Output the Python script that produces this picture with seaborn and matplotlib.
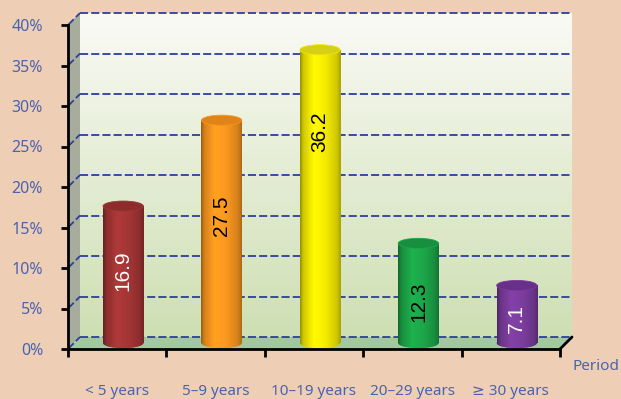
import numpy as np
import pandas as pd
import matplotlib
matplotlib.use("Agg")
import matplotlib.pyplot as plt
import matplotlib.transforms as mtransforms
from matplotlib.colors import to_rgb
from matplotlib.patches import Ellipse, Polygon, Rectangle
from matplotlib.lines import Line2D
from matplotlib.ticker import FuncFormatter
import seaborn as sns

# ---- data -------------------------------------------------------------
periods = ["< 5 years", "5–9 years", "10–19 years", "20–29 years", "≥ 30 years"]
shares = [16.9, 27.5, 36.2, 12.3, 7.1]
y_ticks = [0, 5, 10, 15, 20, 25, 30, 35, 40]
axis_title = "Period"

# ---- styling ----------------------------------------------------------
bar_colors = ["#A33535", "#F7961F", "#F2E900", "#1CA548", "#7B3C9C"]
top_colors = ["#8C2C2C", "#E0841A", "#D6CF18", "#178F3E", "#68308A"]
label_colors = ["white", "black", "black", "black", "white"]
label_frac = [0.53, 0.57, 0.72, 0.41, 0.42]

BG = "#EFCEB6"
TICK_BLUE = "#4A63AE"
GRID_BLUE = "#2D3E9F"
W, H, DPI = 621, 399, 100
DEPTH = 12  # px, depth of the box

sns.set_style("white")
plt.rcParams["font.family"] = ["Noto Sans", "DejaVu Sans"]

fig = plt.figure(figsize=(W / DPI, H / DPI), dpi=DPI, facecolor=BG)
ax = fig.add_axes([68 / W, 50 / H, 492 / W, 324 / H])
ax.patch.set_visible(False)

df = pd.DataFrame({"period": periods, "share": shares})
sns.barplot(data=df, x="period", y="share", hue="period", palette=bar_colors,
            width=0.41, saturation=1, legend=False, linewidth=0, ax=ax,
            zorder=3)
bars = sorted([p for p in ax.patches if isinstance(p, Rectangle)],
              key=lambda p: p.get_x())
ax.set_xlim(-0.5, len(periods) - 0.5)
ax.set_ylim(y_ticks[0], y_ticks[-1])

off_back = ax.transData + mtransforms.ScaledTranslation(DEPTH / DPI, DEPTH / DPI, fig.dpi_scale_trans)
off_mid = ax.transData + mtransforms.ScaledTranslation(DEPTH / 2 / DPI, DEPTH / 2 / DPI, fig.dpi_scale_trans)
pix = mtransforms.IdentityTransform()
x_lo, x_hi = ax.get_xlim()
y_lo, y_hi = ax.get_ylim()

# ---- back wall (vertical gradient) -----------------------------------
top_c = np.array(to_rgb("#FAFAF5"))
bot_c = np.array(to_rgb("#CEDFB3"))
t = np.linspace(0, 1, 256)[:, None]
wall = (top_c * (1 - t) + bot_c * t)[:, None, :]
im = ax.imshow(wall, extent=(x_lo, x_hi, y_lo, y_hi), aspect="auto",
               origin="upper", zorder=0, interpolation="bilinear")
im.set_transform(off_back)
im.set_clip_on(False)

# ---- side wall and floor (pixel coordinates) ---------------------------
def disp(x, y):
    return ax.transData.transform((x, y))

fl = disp(x_lo, y_lo)
fr = disp(x_hi, y_lo)
tl = disp(x_lo, y_hi)
d = np.array([DEPTH, DEPTH])
side = Polygon([fl, tl, tl + d, fl + d], closed=True, transform=pix,
               facecolor="#A6AD9C", edgecolor="none", zorder=0.5,
               clip_on=False)
ax.add_artist(side)
floor = Polygon([fl, fr, fr + d, fl + d], closed=True, transform=pix,
                facecolor="#A3C8A0", edgecolor="none", zorder=0.6,
                clip_on=False)
ax.add_artist(floor)
ax.add_artist(Line2D([fr[0], fr[0] + DEPTH], [fr[1], fr[1] + DEPTH],
                     transform=pix, color="black", lw=2, zorder=4,
                     clip_on=False))

# ---- dashed grid on back wall and side wall ---------------------------
dash = (0, (4.5, 1.7))
for yv in y_ticks:
    ax.plot([x_lo, x_hi], [yv, yv], transform=off_back, color=GRID_BLUE,
            lw=1.3, ls=dash, zorder=1, clip_on=False)
    p = disp(x_lo, yv)
    ax.add_artist(Line2D([p[0], p[0] + DEPTH], [p[1], p[1] + DEPTH],
                         transform=pix, color=GRID_BLUE, lw=1.3, ls=dash,
                         zorder=1, clip_on=False))

# ---- cylinders --------------------------------------------------------
def cylinder_shade(color, n=96):
    base = np.array(to_rgb(color))
    tt = np.linspace(0, 1, n)
    fac = np.interp(tt, [0, 0.08, 0.35, 0.65, 0.9, 1.0],
                    [0.62, 0.86, 1.08, 1.0, 0.86, 0.7])
    rgb = np.clip(base[None, :] * fac[:, None], 0, 1)
    return rgb[None, :, :]

ell_h = 1.25
for i, bar in enumerate(bars):
    x0, w, h = bar.get_x(), bar.get_width(), bar.get_height()
    xc = x0 + w / 2
    bar.set_transform(off_mid)
    shade = cylinder_shade(bar_colors[i])

    body = ax.imshow(shade, extent=(x0, x0 + w, 0, h), aspect="auto",
                     zorder=3.1, interpolation="bilinear")
    body.set_transform(off_mid)
    body.set_clip_path(bar)

    base_ell = Ellipse((xc, 0), w, ell_h, transform=off_mid,
                       facecolor=bar_colors[i], edgecolor="none", zorder=2.9)
    ax.add_patch(base_ell)
    base_img = ax.imshow(shade, extent=(x0, x0 + w, -ell_h, ell_h),
                         aspect="auto", zorder=3.0, interpolation="bilinear")
    base_img.set_transform(off_mid)
    base_img.set_clip_path(base_ell)

    ax.add_patch(Ellipse((xc, h), w, ell_h, transform=off_mid,
                         facecolor=top_colors[i], edgecolor=bar_colors[i],
                         lw=0.6, zorder=3.3))

    ax.text(xc, h * label_frac[i], f"{shares[i]}", rotation=90,
            ha="center", va="center", fontsize=15, color=label_colors[i],
            family="Liberation Sans", transform=off_mid, zorder=5)

ax.set_xlim(x_lo, x_hi)
ax.set_ylim(y_lo, y_hi)

# ---- axes, ticks, labels ----------------------------------------------
for s in ("top", "right"):
    ax.spines[s].set_visible(False)
for s in ("left", "bottom"):
    ax.spines[s].set_color("black")
    ax.spines[s].set_linewidth(2)
    ax.spines[s].set_zorder(4)

ax.set_yticks(y_ticks)
ax.yaxis.set_major_formatter(FuncFormatter(lambda v, _: f"{v:.0f}%"))
ax.tick_params(axis="y", direction="out", length=5, width=2, color="black",
               pad=13, labelsize=11.5, labelcolor=TICK_BLUE, left=True)
ax.set_xticks(range(len(periods)), periods)
ax.set_xticks(np.arange(-0.5, len(periods)), minor=True)
ax.tick_params(axis="x", which="major", length=0, pad=25, labelsize=11,
               labelcolor=TICK_BLUE)
ax.tick_params(axis="x", which="minor", direction="out", length=6, width=2,
               color="black", bottom=True)
ax.set_xlabel("")
ax.set_ylabel("")

fig.text(572 / W, (H - 367) / H, axis_title, ha="left", va="center",
         fontsize=11, color=TICK_BLUE)

fig.savefig("out.png", dpi=DPI, facecolor=BG)
